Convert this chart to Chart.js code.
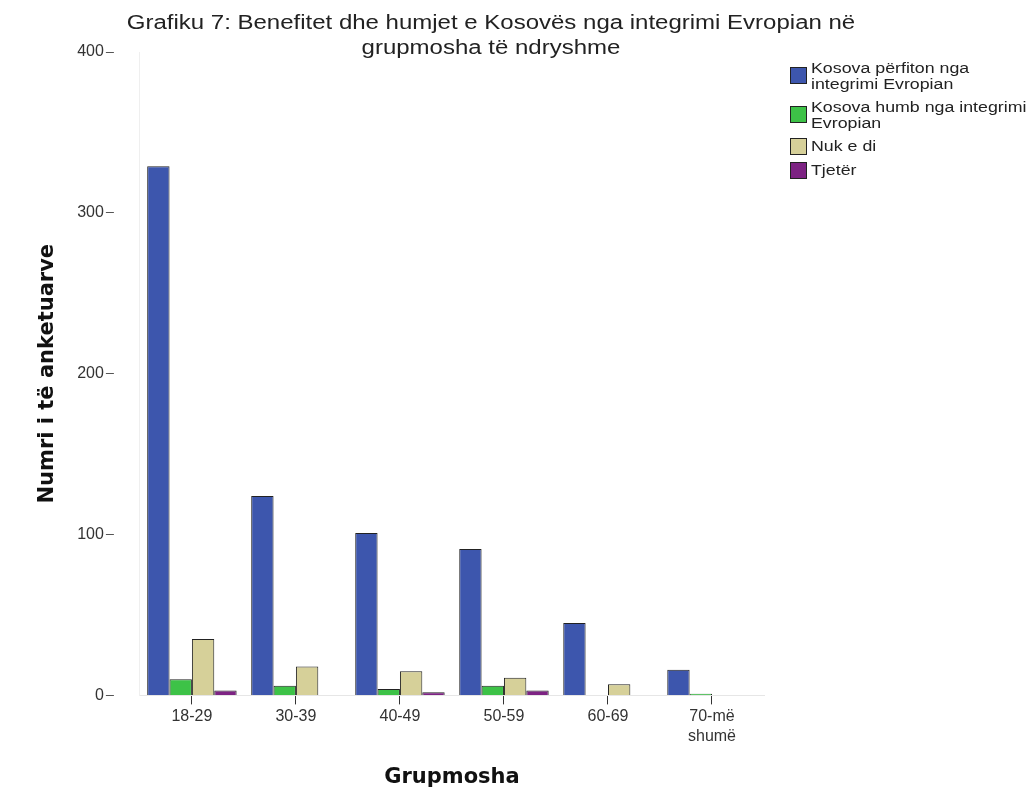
<!DOCTYPE html>
<html>
<head>
<meta charset="utf-8">
<script src="https://cdn.jsdelivr.net/npm/chart.js@4/dist/chart.umd.min.js"></script>
<style>
  body { margin: 0; background: #fff; }
  #wrap { position: relative; width: 1036px; height: 790px; }
  #title { position: absolute; left: 0; width: 982px; top: 10px; text-align: center;
    font: 20px "Liberation Sans", Arial, sans-serif; color: #222; line-height: 25px;
    transform: scaleX(1.2); transform-origin: 491px 0; }
  #legend { position: absolute; left: 790px; top: 60px; font: 14px "Liberation Sans", Arial, sans-serif; color: #222; }
  .item { display: flex; align-items: flex-start; margin-bottom: 7px; line-height: 16px; }
  .sw { width: 15px; height: 15px; border: 1px solid #222; margin-right: 4px; margin-top: 7px; flex: none; }
  .txt { transform: scaleX(1.27); transform-origin: 0 0; white-space: nowrap; }
</style>
</head>
<body>
<div id="wrap">
  <canvas id="barChart" width="1036" height="790"></canvas>
  <div id="title">Grafiku 7: Benefitet dhe humjet e Kosovës nga integrimi Evropian në<br>grupmosha të ndryshme</div>
  <div id="legend"></div>
</div>
<script>
// Age groups and counts per answer
const ageGroups = ['18-29', '30-39', '40-49', '50-59', '60-69', ['70-më', 'shumë']];
const perfiton = [329, 124, 101, 91, 45, 16];
const humb = [10, 6, 4, 6, 0, 1];
const nukEDi = [35, 18, 15, 11, 7, 0];
const tjeter = [3, 0, 2, 3, 0, 0];

const seriesNames = [
    ['Kosova përfiton nga', 'integrimi Evropian'],
    ['Kosova humb nga integrimi', 'Evropian'],
    ['Nuk e di'],
    ['Tjetër']
];
const seriesColors = ['#3d56ad', '#3dc247', '#d6d099', '#7d2383'];
const seriesData = [perfiton, humb, nukEDi, tjeter];

// HTML legend
const legendEl = document.getElementById('legend');
seriesNames.forEach((name, i) => {
    const item = document.createElement('div');
    item.className = 'item';
    const sw = document.createElement('div');
    sw.className = 'sw';
    sw.style.background = seriesColors[i];
    if (name.length === 1) sw.style.marginTop = '0px';
    const txt = document.createElement('div');
    txt.className = 'txt';
    txt.innerHTML = name.join('<br>');
    item.appendChild(sw);
    item.appendChild(txt);
    legendEl.appendChild(item);
});

const ctx = document.getElementById('barChart').getContext('2d');
new Chart(ctx, {
    type: 'bar',
    data: {
        labels: ageGroups,
        datasets: seriesData.map((d, i) => ({
            label: seriesNames[i].join(' '),
            data: d,
            backgroundColor: seriesColors[i],
            borderColor: '#222',
            borderWidth: 1,
            categoryPercentage: 0.86,
            barPercentage: 1.0
        }))
    },
    options: {
        responsive: false,
        animation: false,
        layout: { padding: { left: 35, right: 272, top: 52, bottom: 0 } },
        plugins: {
            legend: { display: false },
            tooltip: { enabled: false }
        },
        scales: {
            x: {
                grid: { display: true, drawOnChartArea: false, drawTicks: true, offset: false, tickLength: 9, color: '#333' },
                border: { display: true, color: '#e6e6e6' },
                ticks: { color: '#333', font: { family: 'Liberation Sans', size: 16 }, padding: 3, maxRotation: 0 },
                title: {
                    display: true, text: 'Grupmosha', color: '#111',
                    font: { family: 'DejaVu Sans', size: 21, weight: 'bold' }, padding: { top: 16, bottom: 0 }
                }
            },
            y: {
                min: 0, max: 400,
                // long tick, dashed so only the outer 8px shows (axis sits apart from the labels)
                grid: { drawOnChartArea: false, tickLength: 34, tickColor: '#555', tickBorderDash: [8, 26], tickBorderDashOffset: 0 },
                border: { display: true, color: '#efefef' },
                ticks: { stepSize: 100, color: '#333', font: { family: 'Liberation Sans', size: 16 }, padding: 2 },
                title: {
                    display: true, text: 'Numri i të anketuarve', color: '#111',
                    font: { family: 'DejaVu Sans', size: 21, weight: 'bold' }, padding: { top: 0, bottom: 15 }
                }
            }
        }
    }
});
</script>
</body>
</html>
